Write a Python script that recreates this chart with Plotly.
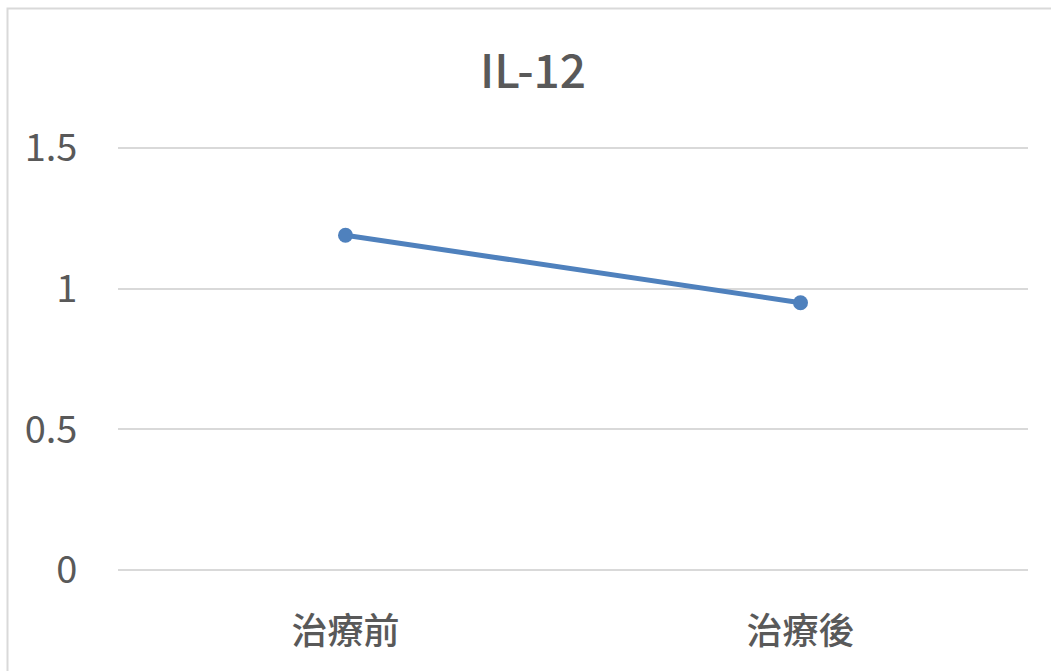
import plotly.graph_objects as go

# IL-12 levels before and after treatment
categories = ["治療前", "治療後"]
il12_values = [1.19, 0.95]
y_ticks = [0, 0.5, 1, 1.5]
y_tick_labels = ["0", "0.5", "1", "1.5"]

W, H = 1051, 671
FONT = "Noto Sans CJK TC"
TEXT = "#595959"
BLUE = "#4F81BD"
GRID = "#D9D9D9"

# Small padding on the value range so the end gridlines are kept
Y_PAD = 0.0036
L, R, T, B = 118, 23, 147, 100

fig = go.Figure(
    go.Scatter(
        x=categories,
        y=il12_values,
        mode="lines+markers",
        line=dict(color=BLUE, width=5),
        marker=dict(color=BLUE, size=15),
        showlegend=False,
        cliponaxis=False,
    )
)

plot_w = W - L - R
plot_h = H - T - B


def px_to_paper_x(px):
    return (px - L) / plot_w


def px_to_paper_y(py):
    return (H - B - py) / plot_h


# Outer chart frame (extends past the right and bottom edges of the canvas)
fig.add_shape(
    type="rect",
    xref="paper", yref="paper",
    x0=px_to_paper_x(7.5), x1=px_to_paper_x(1070),
    y0=px_to_paper_y(690), y1=px_to_paper_y(8.5),
    line=dict(color=GRID, width=2),
    fillcolor="rgba(0,0,0,0)",
    layer="below",
)

fig.update_layout(
    width=W,
    height=H,
    margin=dict(l=L, r=R, t=T, b=B, pad=0),
    paper_bgcolor="white",
    plot_bgcolor="white",
    font=dict(family=FONT, color=TEXT, size=36),
    title=dict(
        text="IL-12",
        font=dict(family=FONT, size=46, color=TEXT, weight=500),
        x=533 / W,
        xref="container",
        xanchor="center",
        y=1 - 72 / H,
        yref="container",
        yanchor="middle",
    ),
    xaxis=dict(
        type="category",
        range=[-0.5, 1.5],
        showgrid=False,
        showline=False,
        zeroline=False,
        ticks="outside",
        ticklen=29,
        tickcolor="rgba(0,0,0,0)",
        tickfont=dict(family=FONT, size=36, color=TEXT, weight=500),
        fixedrange=True,
    ),
    yaxis=dict(
        range=[-Y_PAD, 1.5 + Y_PAD],
        tickvals=y_ticks,
        ticktext=y_tick_labels,
        showgrid=True,
        gridcolor=GRID,
        gridwidth=2,
        zeroline=False,
        showline=False,
        ticks="outside",
        ticklen=32,
        tickcolor="rgba(0,0,0,0)",
        tickfont=dict(family=FONT, size=38, color=TEXT),
        fixedrange=True,
    ),
)

fig.write_html("out.html")
